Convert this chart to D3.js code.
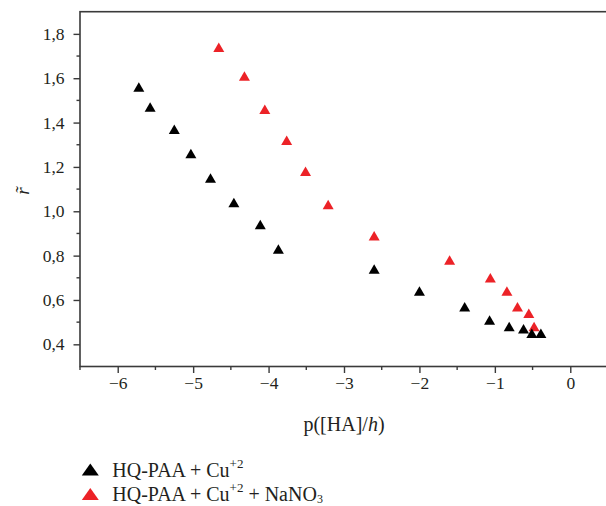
<!DOCTYPE html>
<html>
<head>
<meta charset="utf-8">
<script src="https://cdn.jsdelivr.net/npm/d3@7"></script>
<style>
  html, body { margin: 0; padding: 0; background: #fff; }
  svg { display: block; }
  text { font-family: "Liberation Serif", "Times New Roman", serif; fill: #231f20; }
</style>
</head>
<body>
<script>
// p([HA]/h) and r̃ for the two systems
const seriesNames = ["HQ-PAA + Cu", "HQ-PAA + Cu + NaNO"];
const blackX = [-5.72, -5.57, -5.25, -5.03, -4.77, -4.46, -4.11, -3.87, -2.60, -2.00, -1.40, -1.07, -0.81, -0.62, -0.51, -0.39];
const blackY = [1.56, 1.47, 1.37, 1.26, 1.15, 1.04, 0.94, 0.83, 0.74, 0.64, 0.57, 0.51, 0.48, 0.47, 0.45, 0.45];
const redX = [-4.66, -4.32, -4.05, -3.76, -3.51, -3.21, -2.60, -1.60, -1.06, -0.84, -0.70, -0.55, -0.48];
const redY = [1.74, 1.61, 1.46, 1.32, 1.18, 1.03, 0.89, 0.78, 0.70, 0.64, 0.57, 0.54, 0.48];
const xTicks = [-6, -5, -4, -3, -2, -1, 0];
const yTicks = [0.4, 0.6, 0.8, 1.0, 1.2, 1.4, 1.6, 1.8];

const W = 606, H = 506;
const plotLeft = 80, plotRight = 608, plotTop = 11.7, plotBottom = 366.5;

const svg = d3.select("body").append("svg").attr("width", W).attr("height", H);

const x = d3.scaleLinear().domain([-6.5, 0.5]).range([plotLeft, plotRight]);
const y = d3.scaleLinear().domain([0.3, 1.9]).range([plotBottom, plotTop]);

const axisColor = "#3a3a3a";

// triangle centred on its bounding box
function triangle(w, h) {
  const p = d3.path();
  p.moveTo(0, -h / 2);
  p.lineTo(w / 2, h / 2);
  p.lineTo(-w / 2, h / 2);
  p.closePath();
  return p.toString();
}

// frame
svg.append("rect")
  .attr("x", plotLeft).attr("y", plotTop)
  .attr("width", plotRight - plotLeft).attr("height", plotBottom - plotTop)
  .attr("fill", "none").attr("stroke", axisColor).attr("stroke-width", 1.6);

// x axis
const fmtX = d3.format("d");
const xAxis = svg.append("g").attr("transform", `translate(0,${plotBottom})`)
  .call(d3.axisBottom(x).tickValues(xTicks).tickFormat(fmtX).tickSize(6.5).tickPadding(4));
xAxis.select(".domain").remove();
xAxis.selectAll(".tick line").attr("stroke", axisColor).attr("stroke-width", 1.4);
xAxis.selectAll(".tick text").attr("font-size", 17.5).attr("fill", "#231f20")
  .attr("font-family", "Liberation Serif, serif");
const xMinor = d3.range(-6.5, 0.51, 1);
svg.append("g").selectAll("line").data(xMinor).join("line")
  .attr("x1", d => x(d)).attr("x2", d => x(d))
  .attr("y1", plotBottom).attr("y2", plotBottom + 3.5)
  .attr("stroke", axisColor).attr("stroke-width", 1.4);

// y axis
const fmtY = v => d3.format(".1f")(v).replace(".", ",");
const yAxis = svg.append("g").attr("transform", `translate(${plotLeft},0)`)
  .call(d3.axisLeft(y).tickValues(yTicks).tickFormat(fmtY).tickSize(6.5).tickPadding(9));
yAxis.select(".domain").remove();
yAxis.selectAll(".tick line").attr("stroke", axisColor).attr("stroke-width", 1.4);
yAxis.selectAll(".tick text").attr("font-size", 17.5).attr("fill", "#231f20")
  .attr("font-family", "Liberation Serif, serif");
const yMinor = d3.range(0.5, 1.81, 0.2);
svg.append("g").selectAll("line").data(yMinor).join("line")
  .attr("x1", plotLeft - 3.5).attr("x2", plotLeft)
  .attr("y1", d => y(d)).attr("y2", d => y(d))
  .attr("stroke", axisColor).attr("stroke-width", 1.4);

// axis titles
const xt = svg.append("text")
  .attr("x", (plotLeft + plotRight) / 2).attr("y", 431)
  .attr("text-anchor", "middle").attr("font-size", 20);
xt.append("tspan").text("p([HA]/");
xt.append("tspan").attr("font-style", "italic").text("h");
xt.append("tspan").text(")");

svg.append("text")
  .attr("transform", `translate(29,${(plotTop + plotBottom) / 2 + 2}) rotate(-90)`)
  .attr("text-anchor", "middle")
  .attr("font-size", 19).attr("font-style", "italic")
  .text("r\u0303");

// markers
const blackPts = blackX.map((v, i) => [v, blackY[i]]);
const redPts = redX.map((v, i) => [v, redY[i]]);
const markerPath = triangle(11, 9.5);

svg.append("g").selectAll("path").data(redPts).join("path")
  .attr("d", markerPath)
  .attr("transform", d => `translate(${x(d[0])},${y(d[1])})`)
  .attr("fill", "#ec2227");

svg.append("g").selectAll("path").data(blackPts).join("path")
  .attr("d", markerPath)
  .attr("transform", d => `translate(${x(d[0])},${y(d[1])})`)
  .attr("fill", "#000");

// legend
const legendPath = triangle(17, 12);
const legend = svg.append("g");
const rows = [
  { color: "#000", cy: 469.5, base: 476.5 },
  { color: "#ec2227", cy: 494, base: 500.5 }
];
rows.forEach((r, i) => {
  legend.append("path").attr("d", legendPath)
    .attr("transform", `translate(90.3,${r.cy})`).attr("fill", r.color);
  const t = legend.append("text").attr("x", 112.3).attr("y", r.base).attr("font-size", 20);
  t.append("tspan").text(seriesNames[0]);
  t.append("tspan").attr("font-size", 13).attr("dy", -9).text("+2");
  if (i === 1) {
    t.append("tspan").attr("dy", 9).text(" + NaNO");
    t.append("tspan").attr("font-size", 12).attr("dy", 2.5).text("3");
  }
});
</script>
</body>
</html>
